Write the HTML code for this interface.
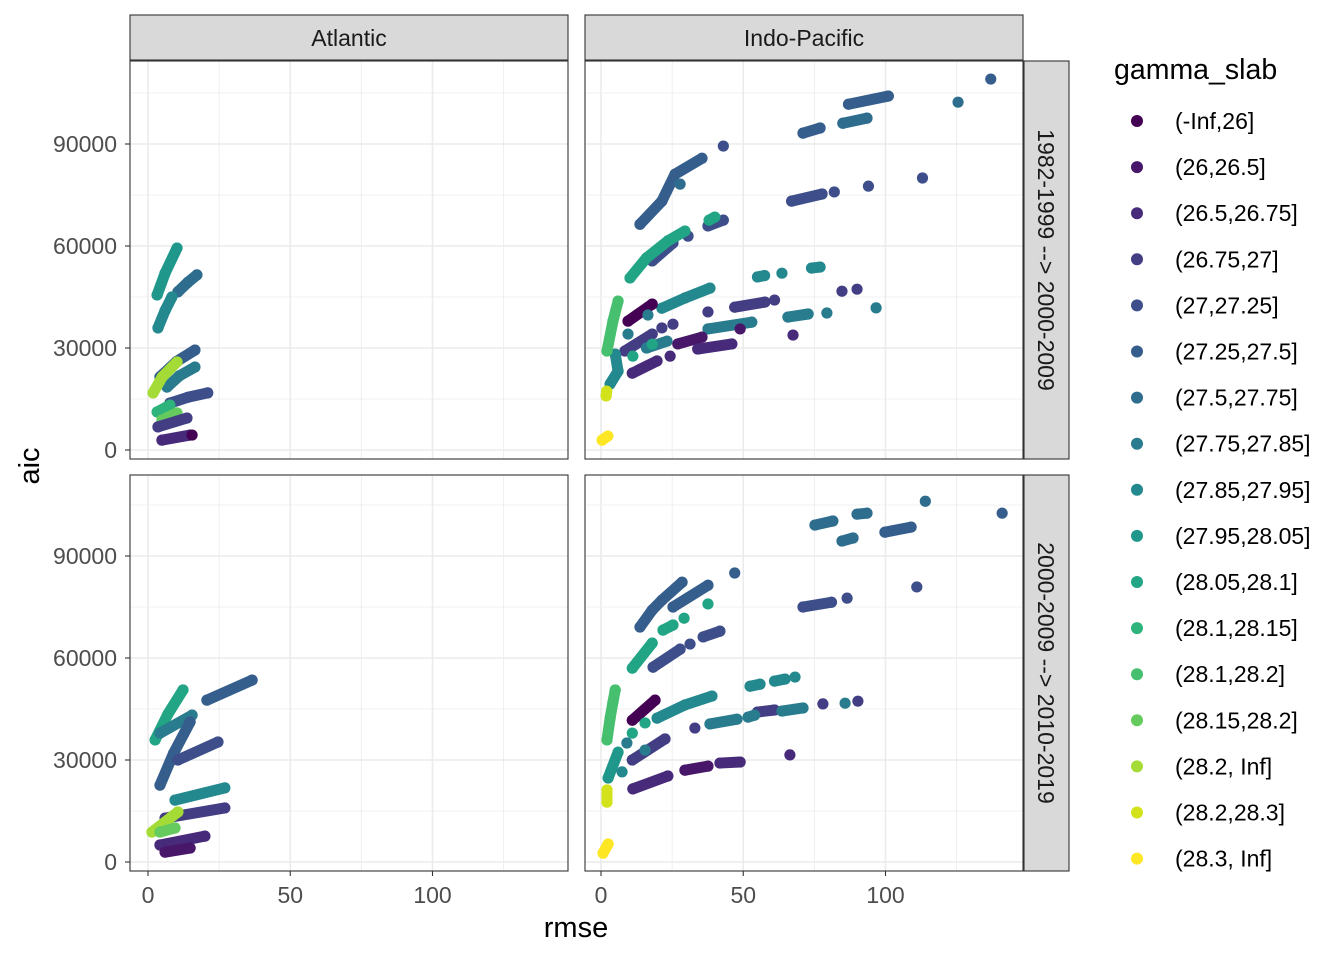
<!DOCTYPE html>
<html><head><meta charset="utf-8"><style>
body{margin:0;background:#fff;}
svg{display:block;font-family:"Liberation Sans",Arial,sans-serif;}
</style></head><body>
<svg id="chart" width="1344" height="960" viewBox="0 0 1344 960"></svg>
<script>
const legendLabels=["(-Inf,26]","(26,26.5]","(26.5,26.75]","(26.75,27]","(27,27.25]","(27.25,27.5]","(27.5,27.75]","(27.75,27.85]","(27.85,27.95]","(27.95,28.05]","(28.05,28.1]","(28.1,28.15]","(28.1,28.2]","(28.15,28.2]","(28.2, Inf]","(28.2,28.3]","(28.3, Inf]"];
const palette=["#440154","#481769","#472A7A","#433D84","#3D4E8A","#355E8D","#2E6D8E","#297B8E","#23898E","#1F978B","#21A585","#2EB37C","#46C06F","#65CB5E","#A5DB36","#D2E21B","#FDE725"];
const xTicks=[0,50,100];
const yTicks=[0,30000,60000,90000];
const colLabels=["Atlantic","Indo-Pacific"];
const rowLabels=["1982-1999 --> 2000-2009","2000-2009 --> 2010-2019"];
// series: colour index + points [rmse, aic]
const atlTop=[
{c:9,p:[[3.2,45600],[6,52000],[10.2,59400]]},
{c:6,p:[[10.5,46500],[14,49300],[17.2,51500]]},
{c:8,p:[[3.5,35900],[6,41000],[8.4,45000]]},
{c:5,p:[[4.2,21500],[10,26000],[16.5,29400]]},
{c:7,p:[[6.7,18500],[11,21800],[16.5,24400]]},
{c:14,p:[[1.8,16800],[5,21500],[10.2,25900]]},
{c:4,p:[[7.7,13800],[14,15500],[21,16800]]},
{c:11,p:[[3.2,11200],[7.7,13200]]},
{c:13,p:[[4.9,8800],[10.2,10900]]},
{c:3,p:[[3.5,6800],[13.7,9400]]},
{c:2,p:[[4.9,2900],[14.8,4400]]},
{c:0,p:[[15.5,4400]]}];
const indTop=[
{c:5,p:[[71,93200],[77,94700]]},{c:5,p:[[87,101700],[101,104100]]},{c:5,p:[[137,109100]]},
{c:6,p:[[125.5,102300]]},{c:6,p:[[85,96100],[93.5,97600]]},
{c:5,p:[[13.7,66400],[21.4,73200],[26,81100],[35.5,85800]]},{c:6,p:[[27.8,78200]]},{c:4,p:[[43,89400]]},
{c:4,p:[[67,73200],[77.7,75300]]},{c:4,p:[[82,75900]]},{c:4,p:[[94,77600]]},{c:4,p:[[113,80000]]},
{c:4,p:[[18,55600],[25.3,60900]]},{c:4,p:[[30.6,62900]]},{c:4,p:[[37.6,65900],[43,67600]]},
{c:10,p:[[10.2,50600],[16,56500],[23.5,61500],[29.5,64400]]},{c:10,p:[[38,67600],[40,68500]]},
{c:8,p:[[21.4,41700],[29.5,44700],[38.3,47600]]},{c:8,p:[[55,50900],[57.5,51300]]},{c:8,p:[[63.6,52000]]},{c:8,p:[[74,53500],[77,53800]]},
{c:3,p:[[37.6,40600]]},{c:3,p:[[47,42000],[57.6,43500]]},{c:3,p:[[61,44100]]},{c:3,p:[[84.7,46700]]},{c:3,p:[[90,47300]]},
{c:7,p:[[37.6,35600],[53,37600]]},{c:7,p:[[65.7,39100],[72.8,40000]]},{c:7,p:[[79.4,40300]]},{c:7,p:[[96.7,41800]]},
{c:1,p:[[27,31200],[35.5,33200]]},{c:1,p:[[48.9,35600]]},
{c:2,p:[[34,29700],[46,31200]]},{c:2,p:[[67.5,33800]]},
{c:0,p:[[9.5,37900],[18,42900]]},
{c:2,p:[[11,22600],[19.7,26200]]},{c:2,p:[[24.3,27600]]},
{c:3,p:[[8.4,29100],[18,34100]]},{c:3,p:[[21.4,35900]]},{c:3,p:[[25.3,37000]]},
{c:7,p:[[16,30000],[23.2,32000]]},{c:7,p:[[9.5,34100]]},{c:7,p:[[16.5,39700]]},
{c:10,p:[[11.2,27600]]},{c:10,p:[[18,31100]]},
{c:8,p:[[5,28200],[6,23200],[3.2,19400]]},
{c:12,p:[[2.1,29100],[4.2,37900],[6,43800]]},
{c:15,p:[[1.8,15900],[2,17300]]},
{c:16,p:[[0.4,2900],[2.4,4100]]}];
const atlBot=[
{c:10,p:[[2.5,35900],[7,43500],[12.3,50600]]},
{c:7,p:[[4.2,37900],[15.5,43200]]},
{c:5,p:[[4.2,22600],[9,32000],[14.8,41200]]},
{c:4,p:[[10.5,30000],[24.6,35300]]},
{c:5,p:[[20.7,47600],[36.6,53500]]},
{c:8,p:[[9.5,18200],[27,21800]]},
{c:3,p:[[6,12900],[27,15900]]},
{c:2,p:[[4.2,5000],[20,7600]]},
{c:1,p:[[6,2900],[14.8,4100]]},
{c:14,p:[[1.4,8800],[10.5,14700]]},
{c:13,p:[[4.2,8800],[9.5,10000]]}];
const indBot=[
{c:6,p:[[75.2,99100],[81.5,100300]]},{c:6,p:[[90,102300],[93.5,102600]]},{c:6,p:[[114,106100]]},{c:6,p:[[84.7,94400],[88.6,95300]]},
{c:5,p:[[99.8,97000],[109,98500]]},{c:5,p:[[141,102600]]},
{c:4,p:[[71,75000],[81,76400]]},{c:4,p:[[86.5,77600]]},{c:4,p:[[111,80900]]},
{c:5,p:[[13.7,69100],[18,74100],[21.4,77000],[28.5,82300]]},
{c:5,p:[[25.3,75000],[37.6,81400]]},{c:5,p:[[47,85000]]},
{c:10,p:[[11,57000],[18,64400]]},{c:10,p:[[21.8,68200],[25.3,69700]]},{c:10,p:[[29.2,71700]]},{c:10,p:[[37.6,75900]]},
{c:4,p:[[18.3,57300],[27.8,62600]]},{c:4,p:[[31.3,64100]]},{c:4,p:[[35.9,66200],[41.8,67900]]},
{c:8,p:[[19.7,42300],[29.5,46200],[39,48800]]},{c:8,p:[[52.4,51700],[55.9,52300]]},{c:8,p:[[61,53200],[64.7,53800]]},{c:8,p:[[68.2,54400]]},
{c:3,p:[[55,44100],[61,44700]]},{c:3,p:[[78,46500]]},{c:3,p:[[90.3,47300]]},{c:3,p:[[33,39400]]},
{c:7,p:[[38.3,40600],[47.8,42000]]},{c:7,p:[[51.7,42600],[54,43200]]},{c:7,p:[[63.6,44400],[71,45300]]},{c:7,p:[[85.8,46700]]},
{c:1,p:[[29.5,27000],[37.6,28200]]},{c:2,p:[[41.8,29100],[48.9,29400]]},{c:2,p:[[66.4,31500]]},
{c:2,p:[[11.2,21500],[23.5,25300]]},
{c:0,p:[[11,41700],[19,47600]]},
{c:3,p:[[11,30000],[22.5,36200]]},
{c:7,p:[[15.5,32900]]},{c:7,p:[[9.1,35000]]},
{c:10,p:[[11,37900]]},{c:10,p:[[15.5,40900]]},
{c:9,p:[[2.5,24700],[6,32300]]},{c:8,p:[[7.4,26500]]},
{c:12,p:[[2.1,35900],[3.2,42300],[4.2,47000],[5,50600]]},
{c:15,p:[[2.1,17600],[2.1,21200]]},
{c:16,p:[[0.7,2600],[2.5,5300]]}];

const NS="http://www.w3.org/2000/svg";
const svg=document.getElementById("chart");
function mk(tag,attrs,parent){const e=document.createElementNS(NS,tag);for(const k in attrs)e.setAttribute(k,attrs[k]);(parent||svg).appendChild(e);return e;}
const panelX=[[130,568],[585,1023]], panelY=[[61,459],[475,871]];
const x0=[148,601]; const xs=2.845;
const y0=[450,862]; const ys=102/30000;
function sx(col,v){return x0[col]+v*xs;}
function sy(row,v){return y0[row]-v*ys;}
const panels=[[atlTop,indTop],[atlBot,indBot]];
for(let r=0;r<2;r++)for(let c=0;c<2;c++){
  const g=mk("g",{});
  
  
  const [L,R]=panelX[c],[T,B]=panelY[r];
  mk("rect",{x:L,y:T,width:R-L,height:B-T,fill:"#fff"},g);
  [25,75,125].forEach(v=>{const X=sx(c,v);mk("line",{x1:X,x2:X,y1:T,y2:B,stroke:"#EBEBEB","stroke-width":0.8},g);});
  [15000,45000,75000,105000].forEach(v=>{const Y=sy(r,v);if(Y>T)mk("line",{x1:L,x2:R,y1:Y,y2:Y,stroke:"#EBEBEB","stroke-width":0.8},g);});
  xTicks.forEach(v=>{const X=sx(c,v);mk("line",{x1:X,x2:X,y1:T,y2:B,stroke:"#EBEBEB","stroke-width":1.6},g);});
  yTicks.forEach(v=>{const Y=sy(r,v);mk("line",{x1:L,x2:R,y1:Y,y2:Y,stroke:"#EBEBEB","stroke-width":1.6},g);});
  panels[r][c].forEach(s=>{
    const col=palette[s.c];
    if(s.p.length>1){
      const pl=mk("polyline",{points:s.p.map(q=>sx(c,q[0])+","+sy(r,q[1])).join(" "),fill:"none",stroke:col,"stroke-width":11,"stroke-linecap":"round","stroke-linejoin":"round"},g);
      
      
    }
    s.p.forEach(q=>{
      const d=mk("circle",{cx:sx(c,q[0]),cy:sy(r,q[1]),r:5.6,fill:col},g);
      
      
    });
  });
  mk("rect",{x:L,y:T,width:R-L,height:B-T,fill:"none",stroke:"#333","stroke-width":1.1},g);
}
// strips
colLabels.forEach((t,c)=>{
  const [L,R]=panelX[c];
  const s=mk("rect",{x:L,y:15,width:R-L,height:45,fill:"#D9D9D9",stroke:"#333","stroke-width":1.1});
  
  
  const tx=mk("text",{x:(L+R)/2,y:46,"text-anchor":"middle","font-size":23,fill:"#1A1A1A"});tx.textContent=t;
  
  
});
rowLabels.forEach((t,r)=>{
  const [T,B]=panelY[r];
  const s=mk("rect",{x:1024,y:T,width:45,height:B-T,fill:"#D9D9D9",stroke:"#333","stroke-width":1.1});
  
  
  const cy=(T+B)/2;
  const tx=mk("text",{x:1038,y:cy,"text-anchor":"middle","font-size":23,fill:"#1A1A1A",transform:`rotate(90 1038 ${cy})`});tx.textContent=t;
  
  
});
// axes ticks/labels
for(let r=0;r<2;r++)yTicks.forEach(v=>{const Y=sy(r,v);
  mk("line",{x1:125,x2:130,y1:Y,y2:Y,stroke:"#333","stroke-width":1.1});
  const t=mk("text",{x:117,y:Y+8,"text-anchor":"end","font-size":23,fill:"#4D4D4D"});t.textContent=v;
  
  });
for(let c=0;c<2;c++)xTicks.forEach(v=>{const X=sx(c,v);
  mk("line",{x1:X,x2:X,y1:871,y2:876,stroke:"#333","stroke-width":1.1});
  const t=mk("text",{x:X,y:903,"text-anchor":"middle","font-size":23,fill:"#4D4D4D"});t.textContent=v;
  
  });
const xt=mk("text",{x:576,y:937,"text-anchor":"middle","font-size":29,fill:"#000"});xt.textContent="rmse";


const yt=mk("text",{x:39,y:466,"text-anchor":"middle","font-size":29,fill:"#000",transform:"rotate(-90 39 466)"});yt.textContent="aic";


// legend
const lt=mk("text",{x:1114,y:79,"font-size":28.5,fill:"#000"});lt.textContent="gamma_slab";


legendLabels.forEach((l,i)=>{
  const y=121+i*46.1;
  const g=mk("g",{});
  
  
  mk("circle",{cx:1137,cy:y,r:6,fill:palette[i]},g);
  const t=mk("text",{x:1175,y:y+8,"font-size":23,fill:"#000"},g);t.textContent=l;
});
</script>
</body></html>
